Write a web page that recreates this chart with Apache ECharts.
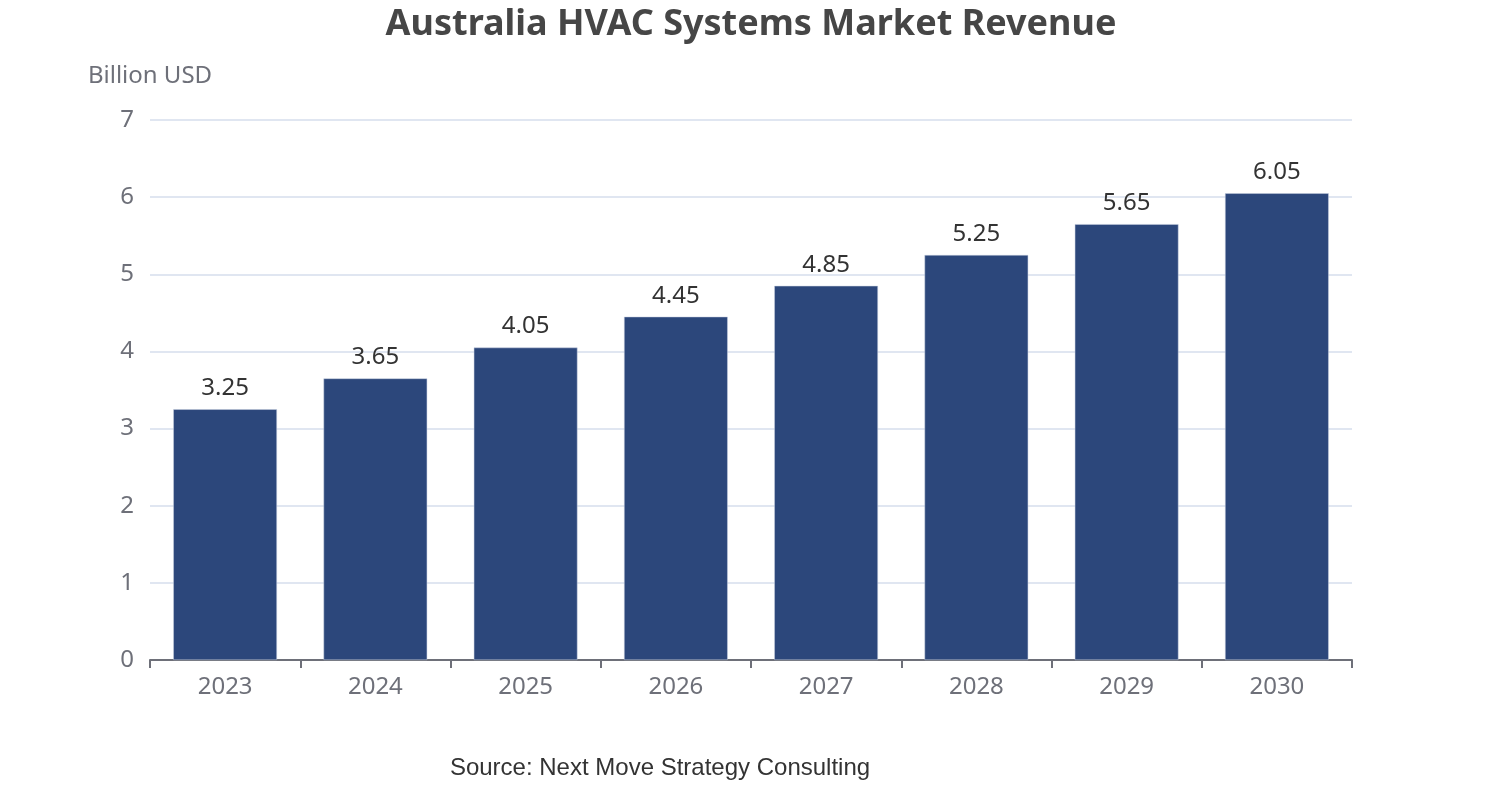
<!DOCTYPE html>
<html>
<head>
<meta charset="utf-8">
<script src="https://cdn.jsdelivr.net/npm/echarts@6/dist/echarts.min.js"></script>
<style>
	html, body { margin: 0; padding: 0; background: #fff; }
	#chart-div { width: 1502px; height: 800px; }
</style>
</head>
<body>
<div id="chart-div"></div>
<script>
// 数据
var g_years = ["2023", "2024", "2025", "2026", "2027", "2028", "2029", "2030"];
var g_revenue = [3.25, 3.65, 4.05, 4.45, 4.85, 5.25, 5.65, 6.05];
var g_font = "Noto Sans, Open Sans, sans-serif";

var g_chart = echarts.init(document.getElementById("chart-div"));

g_chart.setOption({
	title: [{
		text: "Australia HVAC Systems Market Revenue",
		left: "center",
		top: 2,
		textStyle: {
			fontFamily: g_font,
			fontSize: 36,
			fontWeight: "bold",
			color: "#464646"
		}
	}, {
		text: "Source: Next Move Strategy Consulting",
		left: 655,
		textAlign: "center",
		top: 751,
		textStyle: {
			fontFamily: "Liberation Sans, Arial, sans-serif",
			fontSize: 24,
			fontWeight: "normal",
			color: "#333"
		}
	}],
	grid: {
		left: 150,
		right: 150,
		top: 120,
		bottom: 140
	},
	xAxis: {
		type: "category",
		data: g_years,
		axisTick: { show: true, length: 8, lineStyle: { color: "#6e7079", width: 2 } },
		axisLine: { lineStyle: { color: "#6e7079", width: 2 } },
		axisLabel: {
			fontFamily: g_font,
			fontSize: 24,
			color: "#6e7079",
			margin: 15
		}
	},
	yAxis: {
		type: "value",
		min: 0,
		max: 7,
		interval: 1,
		name: "Billion USD",
		nameGap: 32,
		nameTextStyle: {
			fontFamily: g_font,
			fontSize: 24,
			color: "#6e7079"
		},
		axisLabel: {
			fontFamily: g_font,
			fontSize: 24,
			color: "#6e7079",
			margin: 16
		},
		splitLine: { lineStyle: { color: "#e0e6f1", width: 2 } }
	},
	series: [{
		type: "bar",
		data: g_revenue,
		barWidth: "69%",
		itemStyle: {
			color: "#2c477b",
			borderColor: "#c8d0e0",
			borderWidth: 0.5
		},
		label: {
			show: true,
			position: "top",
			distance: 9,
			fontFamily: g_font,
			fontSize: 24,
			color: "#333"
		}
	}]
});

window.addEventListener("resize", g_chart.resize);
</script>
</body>
</html>
